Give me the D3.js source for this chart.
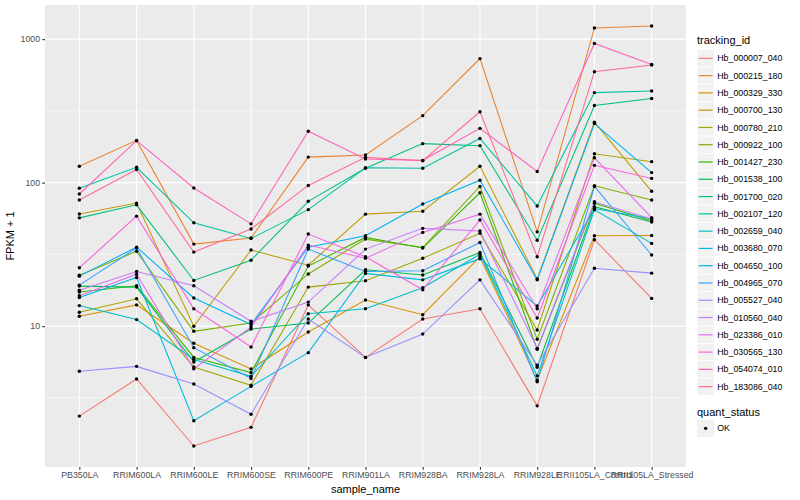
<!DOCTYPE html>
<html><head><meta charset="utf-8">
<script src="https://cdn.jsdelivr.net/npm/d3@7"></script>
<style>body{margin:0;background:#fff}svg{display:block}text{font-family:"Liberation Sans",Arial,Helvetica,sans-serif}</style>
</head><body><svg id="c" width="800" height="500"></svg>
<script>
const samples = ["PB350LA","RRIM600LA","RRIM600LE","RRIM600SE","RRIM600PE","RRIM901LA","RRIM928BA","RRIM928LA","RRIM928LE","RRII105LA_Control","RRII105LA_Stressed"];
const trackingIds = ["Hb_000007_040","Hb_000215_180","Hb_000329_330","Hb_000700_130","Hb_000780_210","Hb_000922_100","Hb_001427_230","Hb_001538_100","Hb_001700_020","Hb_002107_120","Hb_002659_040","Hb_003680_070","Hb_004650_100","Hb_004965_070","Hb_005527_040","Hb_010560_040","Hb_023386_010","Hb_030565_130","Hb_054074_010","Hb_183086_040"];
const yTicks = [10, 100, 1000];
const quantStatus = ["OK"];
// ggplot2 default hue palette for 20 levels
const palette = ["#F8766D","#EA8331","#D89000","#C09B00","#A3A500","#7CAE00","#39B600","#00BB4E","#00BF7D","#00C1A3","#00BFC4","#00BAE0","#00B0F6","#35A2FF","#9590FF","#C77CFF","#E76BF3","#FA62DB","#FF62BC","#FF6C91"];

// FPKM + 1 per sample, one array per tracking_id
const Hb_000007_040 = [2.36, 4.28, 1.46, 1.97, 14.05, 6.05, 11.2, 13.2, 2.78, 40, 15.6];
const Hb_000215_180 = [130, 197, 37.3, 41.1, 150.6, 156, 293, 732, 45.4, 1197, 1235];
const Hb_000329_330 = [11.7, 14.05, 7.6, 5.03, 9.1, 15.2, 12.0, 30.4, 4.2, 42.6, 42.8];
const Hb_000700_130 = [60.5, 72, 9.97, 33.9, 26.6, 60.3, 63.2, 130, 21.3, 264, 87];
const Hb_000780_210 = [12.5, 15.5, 5.19, 3.87, 18.7, 20.7, 29.7, 44.3, 9.4, 159, 140];
const Hb_000922_100 = [22.6, 33.2, 9.2, 10.5, 23.1, 40.4, 35.3, 94, 8.1, 95, 75.6];
const Hb_001427_230 = [17.3, 19.1, 6.05, 4.74, 26.2, 41.5, 35, 85, 6.9, 71.9, 54.3];
const Hb_001538_100 = [19.0, 18.7, 5.62, 9.53, 10.5, 24.7, 22.7, 32.6, 5.16, 68, 53.2];
const Hb_001700_020 = [56.8, 70, 20.8, 28.8, 74.1, 126, 187, 181, 39.7, 345, 386];
const Hb_002107_120 = [91.3, 128, 52.5, 40.8, 64.8, 127, 126, 203, 68.8, 424, 435];
const Hb_002659_040 = [13.9, 11.1, 5.86, 4.47, 12.2, 13.2, 18.5, 31.7, 4.5, 64.6, 37.7];
const Hb_003680_070 = [15.8, 21.8, 2.19, 3.80, 6.53, 23.3, 21, 29.5, 13.8, 66, 56];
const Hb_004650_100 = [22.3, 35.5, 15.7, 10.26, 35.5, 42.6, 71, 104, 21, 258, 117.5];
const Hb_004965_070 = [19.3, 35.0, 7.07, 4.31, 34.4, 24.0, 24.3, 38.3, 4.09, 94, 31.3];
const Hb_005527_040 = [4.84, 5.24, 3.95, 2.43, 11.2, 6.05, 8.8, 21, 5.33, 25.3, 23.4];
const Hb_010560_040 = [17.8, 24, 19.1, 10.8, 14.7, 34.4, 48, 46, 7.0, 73.5, 55.7];
const Hb_023386_010 = [16.3, 23, 5.05, 9.84, 36.7, 29.7, 45, 60.3, 13.2, 149, 57];
const Hb_030565_130 = [25.5, 58.4, 13.2, 7.15, 43.8, 30.4, 17.9, 55, 11.4, 132, 107];
const Hb_054074_010 = [83.3, 196, 91.8, 51.6, 228, 146, 143, 239, 119.5, 934, 667];
const Hb_183086_040 = [75.7, 123.5, 32.8, 47.5, 95.6, 150, 142, 312, 30.4, 593, 660];

const valueArrays = [Hb_000007_040,Hb_000215_180,Hb_000329_330,Hb_000700_130,Hb_000780_210,Hb_000922_100,Hb_001427_230,Hb_001538_100,Hb_001700_020,Hb_002107_120,Hb_002659_040,Hb_003680_070,Hb_004650_100,Hb_004965_070,Hb_005527_040,Hb_010560_040,Hb_023386_010,Hb_030565_130,Hb_054074_010,Hb_183086_040];
const series = trackingIds.map((id, i) => ({id, values: samples.map((s, j) => ({sample: s, v: valueArrays[i][j]}))}));

const color = d3.scaleOrdinal().domain(trackingIds).range(palette);

const svg = d3.select("#c");
const P = {l: 45, r: 686, t: 5, b: 467};

const x = d3.scalePoint().domain(samples).range([P.l, P.r]).padding(0.6);
const all = valueArrays.flat();
const lmin = Math.log10(d3.min(all)), lmax = Math.log10(d3.max(all)), ext = (lmax - lmin) * 0.05;
const y = d3.scaleLog().domain([Math.pow(10, lmin - ext), Math.pow(10, lmax + ext)]).range([P.b, P.t]);

svg.append("rect").attr("x", P.l).attr("y", P.t).attr("width", P.r - P.l).attr("height", P.b - P.t).attr("fill", "#EBEBEB");
const minor = [Math.sqrt(10), Math.sqrt(10) * 10, Math.sqrt(10) * 100];
const g = svg.append("g");
g.selectAll(".mn").data(minor).join("line").attr("x1", P.l).attr("x2", P.r)
  .attr("y1", d => y(d)).attr("y2", d => y(d)).attr("stroke", "#fff").attr("stroke-width", 0.55);
g.selectAll(".mj").data(yTicks).join("line").attr("x1", P.l).attr("x2", P.r)
  .attr("y1", d => y(d)).attr("y2", d => y(d)).attr("stroke", "#fff").attr("stroke-width", 1.1);
g.selectAll(".vx").data(samples).join("line").attr("y1", P.t).attr("y2", P.b)
  .attr("x1", d => x(d)).attr("x2", d => x(d)).attr("stroke", "#fff").attr("stroke-width", 1.1);

// axes
const yAxis = d3.axisLeft(y).tickValues(yTicks).tickFormat(d3.format("d")).tickSize(2.75).tickPadding(2.2);
const ya = svg.append("g").attr("transform", `translate(${P.l},0)`).call(yAxis);
const xAxis = d3.axisBottom(x).tickSize(2.75).tickPadding(2.2);
const xa = svg.append("g").attr("transform", `translate(0,${P.b})`).call(xAxis);
[ya, xa].forEach(a => {
  a.select(".domain").remove();
  a.selectAll(".tick line").attr("stroke", "#333333").attr("stroke-width", 1.1);
  a.selectAll(".tick text").attr("fill", "#4D4D4D").style("font-size", "8.8px").style("font-family", '"Liberation Sans",Arial,sans-serif');
});

svg.append("text").attr("x", (P.l + P.r) / 2).attr("y", 493).attr("text-anchor", "middle").style("font-size", "11px").text("sample_name");
svg.append("text").attr("transform", `translate(14,${(P.t + P.b) / 2}) rotate(-90)`).attr("text-anchor", "middle").style("font-size", "11px").text("FPKM + 1");

// lines
const line = d3.line().x(d => x(d.sample)).y(d => y(d.v));
svg.append("g").selectAll("path").data(series).join("path")
  .attr("d", d => line(d.values)).attr("fill", "none").attr("stroke", d => color(d.id)).attr("stroke-width", 1.07);
// points
svg.append("g").selectAll("circle").data(series.flatMap(s => s.values)).join("circle")
  .attr("cx", d => x(d.sample)).attr("cy", d => y(d.v)).attr("r", 1.7).attr("fill", "#000");

// legend
const L = svg.append("g");
const key = 17.28, lx = 697, ly0 = 49.7;
L.append("text").attr("x", lx).attr("y", 44).style("font-size", "11px").text("tracking_id");
const items = L.selectAll(".it").data(trackingIds).join("g").attr("transform", (d, i) => `translate(${lx},${ly0 + i * key})`);
items.append("rect").attr("width", key).attr("height", key).attr("fill", "#F2F2F2").attr("stroke", "#fff").attr("stroke-width", 0.8);
items.append("line").attr("x1", 1.7).attr("x2", key - 1.7).attr("y1", key / 2).attr("y2", key / 2).attr("stroke", d => color(d)).attr("stroke-width", 1.2);
items.append("text").attr("x", key + 3).attr("y", key / 2).attr("dy", "0.35em").style("font-size", "8.8px").text(d => d);

L.append("text").attr("x", lx).attr("y", 415.5).style("font-size", "11px").text("quant_status");
const q = L.selectAll(".q").data(quantStatus).join("g").attr("transform", (d, i) => `translate(${lx},${419.7 + i * key})`);
q.append("rect").attr("width", key).attr("height", key).attr("fill", "#F2F2F2");
q.append("circle").attr("cx", key / 2).attr("cy", key / 2).attr("r", 1.7).attr("fill", "#000");
q.append("text").attr("x", key + 3).attr("y", key / 2).attr("dy", "0.35em").style("font-size", "8.8px").text(d => d);
</script></body></html>
